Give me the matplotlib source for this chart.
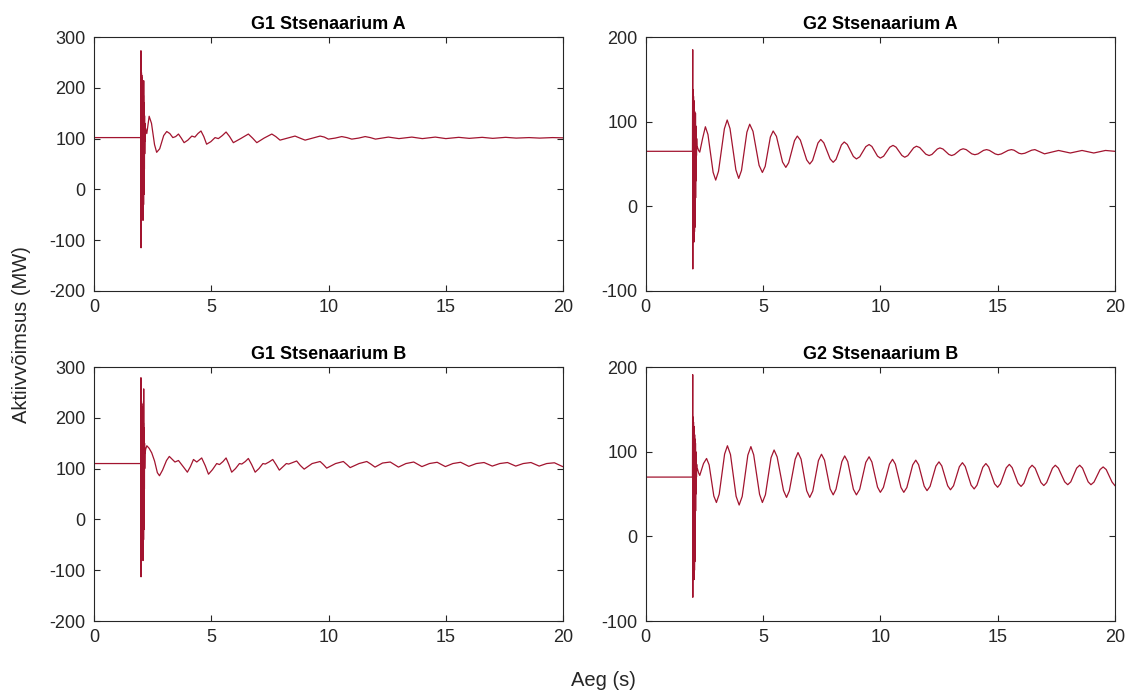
import matplotlib
matplotlib.use('Agg')
import matplotlib.pyplot as plt

plt.rcParams['font.family'] = ['Liberation Sans', 'DejaVu Sans']
plt.rcParams['axes.unicode_minus'] = False

# common time points of the fault transient (s)
spike_t = [2.0, 2.004, 2.01, 2.016, 2.022, 2.028, 2.034, 2.04, 2.046, 2.052,
           2.058, 2.064, 2.07, 2.076, 2.082, 2.088, 2.094, 2.10, 2.106, 2.112,
           2.118, 2.124, 2.13, 2.136, 2.142, 2.148, 2.154, 2.16, 2.17, 2.18,
           2.2, 2.25]

# G1 stsenaarium A (aeg s, võimsus MW)
g1a_spike = [273, -115, 234, -61, 230, -58, 225, -55, 220, -52,
             212, -50, 205, -48, 198, -61, 190, -40, 185, -30,
             214, -10, 170, 20, 160, 40, 145, 70, 130, 95,
             120, 110]
g1a_t = [0, 1.99] + spike_t + [
    2.35, 2.45, 2.58, 2.67, 2.8, 2.97,
    3.10, 3.23, 3.36, 3.48, 3.60, 3.72, 3.84, 4.0, 4.17, 4.30, 4.43, 4.56, 4.68, 4.80, 4.98,
    5.16, 5.30, 5.47, 5.63, 5.78, 5.94, 6.25, 6.58, 6.76, 6.94, 7.25, 7.58, 7.75, 7.93, 8.25,
    8.57, 8.78, 9.0, 9.32, 9.64, 9.82, 9.99, 10.28, 10.56, 10.78, 10.99, 11.28, 11.56, 11.78,
    12.0, 12.55, 13.0, 13.55, 14.0, 14.55, 15.0, 15.55, 16.0, 16.55, 17.0, 17.55, 18.0,
    18.55, 19.0, 19.55, 20]
g1a_p = [102, 102] + g1a_spike + [
    144, 130, 88, 73, 80, 106,
    114, 110, 102, 104, 109, 101, 92, 97, 105, 103, 110, 115, 104, 89, 94,
    102, 100, 106, 113, 104, 92, 100, 109, 101, 92, 101, 109, 104, 97, 101,
    105, 101, 97, 101, 105, 103, 99, 101, 104, 102, 99, 101, 104, 102,
    99, 103, 100, 103, 100, 103, 100, 102.5, 100.5, 102.5, 100.5, 102.5, 101,
    102, 101, 102, 101.5]

# G2 stsenaarium A
g2a_spike = [185, -74, 138, -42, 135, -40, 130, -38, 125, -35,
             120, -42, 115, -30, 112, -25, 108, -20, 105, -10,
             110, 10, 95, 30, 90, 50, 85, 60, 80, 70,
             70, 66]
g2a_t = [0, 1.99] + spike_t + [
    2.3, 2.42,
    2.54, 2.65, 2.87, 2.98, 3.10, 3.35, 3.47, 3.59, 3.84, 3.96, 4.08, 4.31,
    4.43, 4.57, 4.83, 4.97, 5.09, 5.31, 5.43, 5.57, 5.83, 5.97, 6.09, 6.34,
    6.46, 6.59, 6.86, 6.99, 7.11, 7.34, 7.46, 7.59, 7.86, 7.99, 8.11, 8.34,
    8.46, 8.59, 8.85, 8.98, 9.12, 9.38, 9.52, 9.64, 9.88, 10.0, 10.14, 10.4,
    10.54, 10.67, 10.92, 11.04, 11.17, 11.42, 11.54, 11.68, 11.94, 12.08, 12.2, 12.43,
    12.54, 12.67, 12.92, 13.04, 13.16, 13.41, 13.53, 13.66, 13.9, 14.03, 14.16, 14.4,
    14.53, 14.65, 14.9, 15.02, 15.16, 15.45, 15.59, 15.7, 15.91, 16.02, 16.16, 16.45,
    16.59, 17.0, 17.6, 18.1, 18.6, 19.1, 19.6, 20]
g2a_p = [65, 65] + g2a_spike + [
    64, 80,
    94, 84.8, 40.2, 31, 41.4, 91.6, 102, 91.9, 43.1, 33, 42.4, 87.6,
    97, 88.6, 48.4, 40, 47.2, 81.8, 89, 82.7, 52.3, 46, 51.4, 77.6,
    83, 78.2, 54.8, 50, 54.2, 74.8, 79, 75, 56, 52, 55.5, 72.5,
    76, 73.1, 58.9, 56, 58.5, 70.5, 73, 70.7, 59.3, 57, 59.2, 69.8,
    72, 69.9, 60.1, 58, 59.9, 69.1, 71, 69.4, 61.6, 60, 61.3, 67.7,
    69, 67.7, 61.3, 60, 61.2, 66.8, 68, 67, 62, 61, 61.9, 66.1,
    67, 66.1, 61.9, 61, 61.9, 66.1, 67, 66.3, 62.7, 62, 62.7, 66.3,
    67, 62, 66, 63, 66, 63, 66, 65]

# G1 stsenaarium B
g1b_spike = [279, -113, 238, -81, 232, -78, 228, -75, 222, -72,
             215, -70, 210, -65, 205, -81, 198, -60, 190, -40,
             257, -20, 180, 30, 165, 60, 150, 100, 140, 130,
             138, 145]
g1b_t = [0, 1.99] + spike_t + [
    2.35, 2.46, 2.58, 2.7, 2.79, 2.92, 3.09,
    3.21, 3.45, 3.6, 3.8, 3.98, 4.11, 4.24, 4.38, 4.59, 4.74, 4.88, 5.05, 5.23, 5.35, 5.5,
    5.63, 5.75, 5.87, 6.03, 6.2, 6.3, 6.45, 6.58, 6.72, 6.87, 7.03, 7.2, 7.3, 7.46, 7.62,
    7.76, 7.90, 8.2, 8.3, 8.64, 8.8, 8.96, 9.3, 9.64, 9.78, 9.92, 10.3, 10.63, 10.78, 10.92,
    11.3, 11.63, 11.8, 11.98,
    12.3, 12.63, 12.98, 13.3, 13.63, 13.98, 14.3, 14.63, 14.98, 15.3, 15.63, 15.98, 16.3,
    16.63, 16.98, 17.3, 17.63, 17.98, 18.3, 18.63, 18.98, 19.3, 19.63, 19.98, 20]
g1b_p = [110, 110] + g1b_spike + [
    140, 131, 115, 92, 86, 97, 116,
    124, 113, 116, 104, 93, 104, 118, 113, 121, 106, 89, 98, 110, 108, 114,
    121, 108, 93, 100, 110, 109, 114, 120, 108, 93, 100, 110, 109, 113, 118,
    108, 97, 110, 109, 115, 106, 99, 110, 114, 108, 101, 110, 114, 108, 102,
    110, 114, 109, 103,
    111, 113, 103, 110, 113, 104, 110, 112.5, 104, 110, 112.5, 104.5, 110,
    112, 105, 110, 112, 105, 110, 112, 105, 110, 111.5, 104, 104]

# G2 stsenaarium B
g2b_spike = [191, -72, 141, -51, 138, -48, 135, -45, 130, -42,
             125, -51, 129, -40, 120, -30, 115, -20, 112, 0,
             110, 30, 100, 50, 95, 60, 88, 70, 85, 78,
             80, 75]
g2b_t = [0, 1.99] + spike_t + [
    2.3, 2.46,
    2.59, 2.70, 2.90, 3.01, 3.13, 3.36, 3.48, 3.61, 3.85, 3.98, 4.11, 4.35,
    4.48, 4.60, 4.85, 4.97, 5.10, 5.34, 5.47, 5.60, 5.87, 6.0, 6.12, 6.37,
    6.49, 6.62, 6.86, 6.99, 7.12, 7.36, 7.49, 7.62, 7.86, 7.99, 8.11, 8.36,
    8.48, 8.61, 8.85, 8.98, 9.12, 9.38, 9.52, 9.64, 9.88, 10.0, 10.13, 10.39,
    10.52, 10.64, 10.88, 11.0, 11.13, 11.38, 11.51, 11.63, 11.87, 11.99, 12.12, 12.37,
    12.5, 12.62, 12.87, 12.99, 13.12, 13.37, 13.5, 13.62, 13.87, 14.0, 14.12, 14.37,
    14.5, 14.62, 14.87, 15.0, 15.12, 15.37, 15.5, 15.62, 15.87, 16.0, 16.12, 16.35,
    16.47, 16.6, 16.85, 16.97, 17.09, 17.34, 17.46, 17.59, 17.86, 17.99, 18.12, 18.37,
    18.5, 18.62, 18.86, 18.98, 19.11, 19.37, 19.5, 19.63, 19.88, 20]
g2b_p = [70, 70] + g2b_spike + [
    72, 86,
    92, 84.4, 47.6, 40, 49.8, 97.2, 107, 96.7, 47.3, 37, 47.1, 95.9,
    106, 96.3, 49.7, 40, 49.1, 92.9, 102, 93.8, 54.2, 46, 53.8, 91.2,
    99, 91.2, 53.8, 46, 53.5, 89.5, 97, 90, 56, 49, 55.7, 88.3,
    95, 88.3, 55.7, 49, 55.6, 87.4, 94, 87.8, 58.2, 52, 57.7, 85.3,
    91, 85.3, 57.7, 52, 57.6, 84.4, 90, 84.7, 59.3, 54, 59, 83,
    88, 83.2, 59.8, 55, 59.7, 82.3, 87, 82.5, 60.5, 56, 60.4, 81.6,
    86, 81.9, 62.1, 58, 62, 81, 85, 81.2, 62.8, 59, 62.7, 80.3,
    84, 80.5, 63.5, 60, 63.5, 80.5, 84, 80.6, 64.4, 61, 64.4, 80.6,
    84, 80.6, 64.4, 61, 64.1, 78.9, 82, 78.9, 64.1, 60]

titles = ['G1 Stsenaarium A', 'G2 Stsenaarium A', 'G1 Stsenaarium B', 'G2 Stsenaarium B']
series = [(g1a_t, g1a_p), (g2a_t, g2a_p), (g1b_t, g1b_p), (g2b_t, g2b_p)]
ylims = [(-200, 300), (-100, 200), (-200, 300), (-100, 200)]

line_color = '#A2142F'
axis_color = '#262626'

fig = plt.figure(figsize=(11.33, 6.92), dpi=100)
positions = [[0.083, 0.5795, 0.414, 0.367], [0.570, 0.5795, 0.414, 0.367],
             [0.083, 0.1026, 0.414, 0.367], [0.570, 0.1026, 0.414, 0.367]]

for pos, title, (t, p), yl in zip(positions, titles, series, ylims):
    ax = fig.add_axes(pos)
    ax.plot(t, p, color=line_color, linewidth=0.9)
    ax.set_xlim(0, 20)
    ax.set_ylim(*yl)
    ax.set_xticks([0, 5, 10, 15, 20])
    ax.set_yticks(range(yl[0], yl[1] + 1, 100))
    ax.set_title(title, fontsize=13, fontweight='bold', color='black', pad=6)
    ax.tick_params(direction='in', top=True, right=True, length=4, width=0.8,
                   labelsize=13, colors=axis_color, pad=6)
    for s in ax.spines.values():
        s.set_color(axis_color)
        s.set_linewidth(0.8)

fig.text(0.019, 0.516, 'Aktiivvõimsus (MW)', rotation=90, ha='center', va='center',
         fontsize=14.5, color=axis_color)
fig.text(0.533, 0.017, 'Aeg (s)', ha='center', va='center', fontsize=14.5, color=axis_color)

fig.savefig('out.png', dpi=100)
